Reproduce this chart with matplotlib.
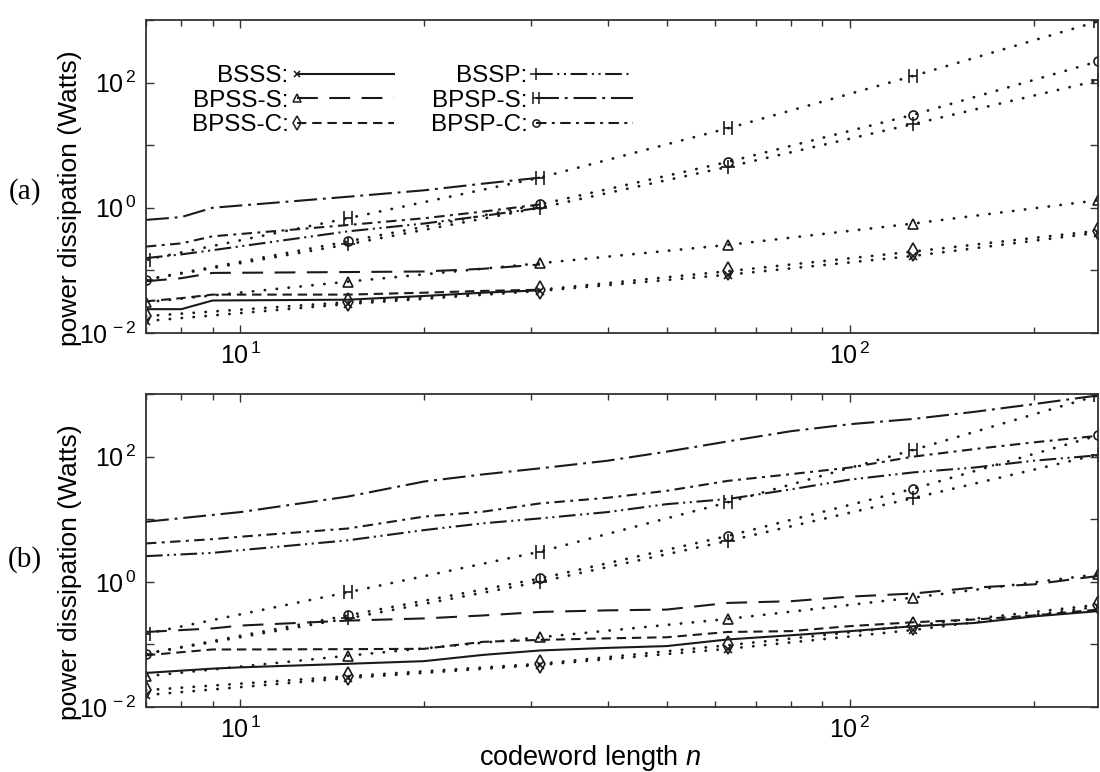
import numpy as np
import matplotlib
matplotlib.use("Agg")
import matplotlib.pyplot as plt
from matplotlib.lines import Line2D
from matplotlib.path import Path
from matplotlib.legend_handler import HandlerLine2D
from matplotlib.ticker import LogLocator, FuncFormatter, NullLocator, NullFormatter

plt.rcParams["font.family"] = ["Liberation Sans", "DejaVu Sans"]
plt.rcParams["mathtext.fontset"] = "custom"
plt.rcParams["mathtext.rm"] = "Liberation Sans"
plt.rcParams["mathtext.it"] = "Liberation Sans:italic"

# --- data -----------------------------------------------------------------
schemes = ["BSSS", "BPSS-S", "BPSS-C", "BSSP", "BPSP-S", "BPSP-C"]

# marked points (dotted curves), identical in both panels
n_code = [7, 15, 31, 63, 127, 255]
pts = {
    "BSSS":   [0.0155, 0.029, 0.047, 0.085, 0.17, 0.40],
    "BPSS-S": [0.031, 0.066, 0.13, 0.255, 0.56, 1.32],
    "BPSS-C": [0.0186, 0.031, 0.049, 0.097, 0.20, 0.43],
    "BSSP":   [0.071, 0.26, 1.0, 4.5, 21.8, 108],
    "BPSP-S": [0.148, 0.68, 3.03, 18.6, 128, 950],
    "BPSP-C": [0.071, 0.29, 1.13, 5.4, 30.7, 218],
}

# continuous curves, panel (a): only up to n = 31
n_a = [7, 8, 9, 15, 20, 25, 31]
curve_a = {
    "BSSS":   [0.024, 0.024, 0.033, 0.034, 0.039, 0.044, 0.048],
    "BPSS-S": [0.067, 0.075, 0.091, 0.094, 0.096, 0.106, 0.124],
    "BPSS-C": [0.032, 0.036, 0.041, 0.041, 0.044, 0.047, 0.049],
    "BSSP":   [0.157, 0.18, 0.21, 0.42, 0.56, 0.74, 1.0],
    "BPSP-S": [0.64, 0.71, 1.0, 1.5, 1.9, 2.43, 3.03],
    "BPSP-C": [0.24, 0.27, 0.35, 0.53, 0.68, 0.87, 1.13],
}

# continuous curves, panel (b): full range
n_b = [7, 9, 10, 15, 20, 25, 31, 40, 50, 63, 80, 100, 127, 160, 200, 255]
curve_b = {
    "BSSS":   [0.035, 0.041, 0.043, 0.049, 0.054, 0.068, 0.08, 0.088, 0.094,
               0.12, 0.14, 0.163, 0.195, 0.22, 0.28, 0.34],
    "BPSS-S": [0.158, 0.18, 0.2, 0.24, 0.26, 0.29, 0.33, 0.35, 0.36,
               0.46, 0.49, 0.58, 0.65, 0.81, 0.91, 1.24],
    "BPSS-C": [0.067, 0.083, 0.083, 0.084, 0.085, 0.11, 0.118, 0.125, 0.13,
               0.158, 0.163, 0.196, 0.226, 0.25, 0.29, 0.36],
    "BSSP":   [2.57, 2.9, 3.2, 4.6, 6.7, 8.6, 10.3, 13, 17.4,
               21, 30, 43, 56, 67, 86, 105],
    "BPSP-S": [9.1, 11.7, 13, 23, 40, 52, 65, 86, 120,
               175, 255, 330, 400, 520, 690, 950],
    "BPSP-C": [4.1, 4.8, 5.25, 7.1, 11, 13.2, 17.9, 22, 28.4,
               41, 52.5, 67, 100, 132, 169, 215],
}

# --- styles -----------------------------------------------------------------
H = Path([(-0.6, -1), (-0.6, 1), (0.6, -1), (0.6, 1), (-0.6, 0), (0.6, 0)],
         [Path.MOVETO, Path.LINETO, Path.MOVETO, Path.LINETO, Path.MOVETO, Path.LINETO])
style = {
    "BSSS":   dict(ls="-", marker="x", ms=6),
    "BPSS-S": dict(ls=(0, (10, 5.5)), marker="^", ms=7.5),
    "BPSS-C": dict(ls=(0, (4.5, 2.8)), marker="d", ms=9),
    "BSSP":   dict(ls=(0, (8, 2.2, 1, 2.2, 1, 2.2)), marker="+", ms=10),
    "BPSP-S": dict(ls=(0, (11, 2.8, 1.4, 2.8)), marker=H, ms=10),
    "BPSP-C": dict(ls=(0, (5, 2.6, 1.4, 2.6)), marker="o", ms=6.5),
}
INK = "#1a1a1a"


class MarkerLeft(HandlerLine2D):
    """gnuplot-like key sample: symbol at the left end of the line."""
    def create_artists(self, *args, **kw):
        arts = super().create_artists(*args, **kw)
        for a in arts:
            a.set_markevery([0])
        return arts


def exp_label(v, pos):
    e = int(round(np.log10(v)))
    return rf"$\mathregular{{10^{{\,{e}}}}}$"


def ylab(v, pos):
    e = int(round(np.log10(v)))
    return exp_label(v, pos) if e % 2 == 0 else ""


def setup(ax):
    ax.set_xscale("log"); ax.set_yscale("log")
    ax.set_xlim(7, 255); ax.set_ylim(1e-2, 1e3)
    ax.xaxis.set_major_locator(LogLocator(base=10, numticks=10))
    ax.xaxis.set_minor_locator(LogLocator(base=10, subs=np.arange(2, 10), numticks=20))
    ax.xaxis.set_major_formatter(FuncFormatter(exp_label))
    ax.xaxis.set_minor_formatter(NullFormatter())
    ax.yaxis.set_major_locator(LogLocator(base=10, numticks=12))
    ax.yaxis.set_minor_locator(NullLocator())
    ax.yaxis.set_major_formatter(FuncFormatter(ylab))
    ax.tick_params(which="both", direction="in", top=True, right=True,
                   color="#333", width=1.0, labelsize=18)
    ax.tick_params(which="major", length=6)
    ax.tick_params(which="minor", length=4)
    ax.tick_params(axis="y", pad=7)
    ax.tick_params(axis="x", pad=7)
    for sp in ax.spines.values():
        sp.set_linewidth(1.3); sp.set_color("#333")
    ax.set_ylabel("power dissipation (Watts)", fontsize=19)
    ax.yaxis.set_label_coords(-0.067, 0.43)


def draw(ax, n_line, curves):
    for s in schemes:
        st = style[s]
        ax.plot(n_code, pts[s], ls=(0, (0.1, 4.2)), lw=2.0, color=INK,
                marker=st["marker"], ms=st["ms"], mfc="none", mec=INK, mew=1.2,
                dash_capstyle="round")
        ax.plot(n_line, curves[s], ls=st["ls"], lw=1.5, color=INK)


fig = plt.figure(figsize=(11, 7.72), dpi=100)
ax_a = fig.add_axes([0.1327, 0.5687, 0.8655, 0.4054])
ax_b = fig.add_axes([0.1327, 0.0842, 0.8655, 0.4054])

for ax, n_line, curves in [(ax_a, n_a, curve_a), (ax_b, n_b, curve_b)]:
    setup(ax)
    draw(ax, n_line, curves)

handles = [Line2D([], [], color=INK, lw=1.5, ls=style[s]["ls"], marker=style[s]["marker"],
                  ms=style[s]["ms"] * 0.8, mfc="none", mec=INK, mew=1.1) for s in schemes]
ax_a.legend(handles, [f"{s}:" for s in schemes], ncols=2, markerfirst=False,
            handler_map={Line2D: MarkerLeft()}, frameon=False, fontsize=17.5,
            handlelength=4.0, handletextpad=0.35, columnspacing=1.5,
            labelspacing=0.1, borderpad=0, borderaxespad=0,
            loc="upper left", bbox_to_anchor=(0.048, 0.855))

ax_b.set_xlabel("codeword length $n$", fontsize=19.5)
ax_b.xaxis.set_label_coords(0.467, -0.115)

fig.text(25 / 1100, 1 - 192 / 772, "(a)", family="Liberation Serif", fontsize=21,
         ha="center", va="center")
fig.text(25 / 1100, 1 - 560 / 772, "(b)", family="Liberation Serif", fontsize=21,
         ha="center", va="center")

fig.savefig("out.png", dpi=100)
